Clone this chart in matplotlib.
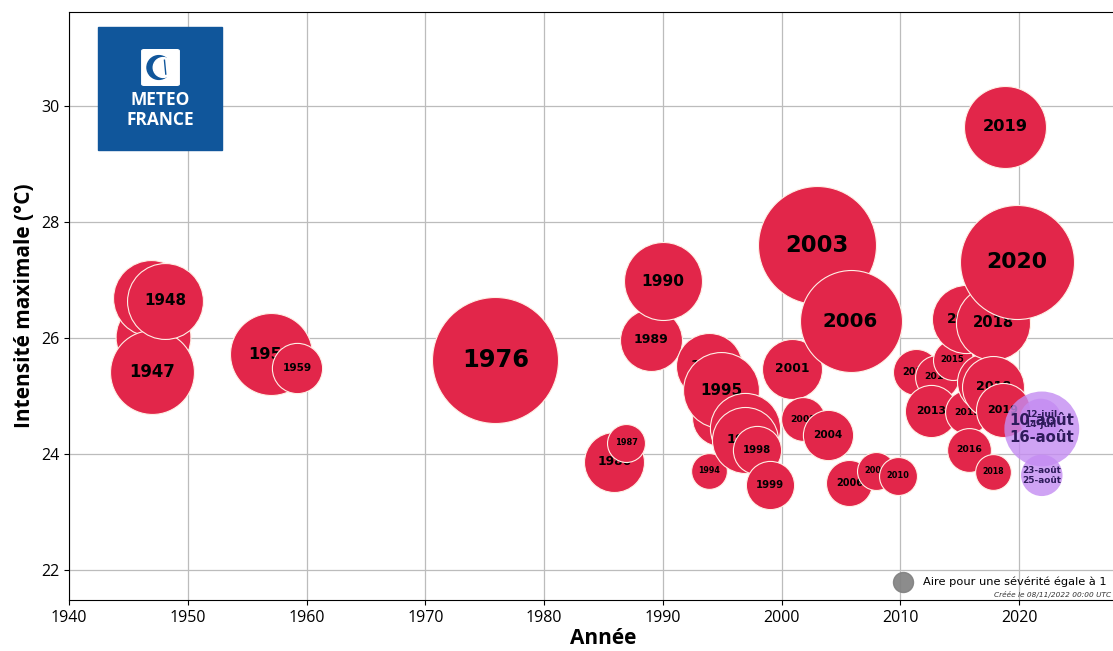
import numpy as np
import matplotlib
matplotlib.use("Agg")
import matplotlib.pyplot as plt
from matplotlib.patches import Rectangle, FancyBboxPatch, Circle

plt.rcParams['font.family'] = ['Open Sans', 'DejaVu Sans']

# vagues de chaleur passées (ordre de tracé)
labels = ["1947", "1947", "1947", "1948", "1957", "1959", "1976", "1976",
          "1986", "1987", "1989", "1990", "1994", "1994", "1995", "1995",
          "1997", "1997", "1998", "1999", "2001", "2002", "2003", "2004",
          "2006", "2006", "2008", "2010", "2012", "2013", "2013", "2015",
          "2015", "2015", "2016", "2017", "2018", "2018", "2018", "2019",
          "2019", "2020"]
annee = [1947.1, 1946.9, 1947.0, 1948.1, 1957.0, 1959.2, 1975.6, 1975.9,
         1985.9, 1986.9, 1989.0, 1990.0, 1993.9, 1993.9, 1994.8, 1994.9,
         1996.9, 1996.9, 1997.9, 1999.0, 2000.9, 2001.8, 2003.0, 2003.9,
         2005.8, 2005.7, 2007.9, 2009.8, 2011.3, 2013.1, 2012.6, 2014.4,
         2015.5, 2015.6, 2015.8, 2017.2, 2017.8, 2017.8, 2017.8, 2018.6,
         2018.8, 2019.8]
intensite = [26.02, 26.69, 25.41, 26.64, 25.72, 25.48, 25.45, 25.62,
             23.86, 24.19, 25.97, 26.98, 25.52, 23.71, 24.62, 25.10,
             24.45, 24.24, 24.07, 23.47, 25.47, 24.60, 27.60, 24.33,
             26.29, 23.50, 23.71, 23.62, 25.41, 25.33, 24.74, 25.62,
             26.33, 24.72, 24.07, 25.24, 26.26, 25.16, 23.69, 24.76,
             29.64, 27.31]
severite = [14.0, 14.4, 17.6, 14.4, 16.8, 6.3, 27.0, 39.7,
            9.0, 3.6, 9.6, 15.2, 10.9, 3.2, 7.8, 14.4,
            12.3, 10.9, 5.8, 5.8, 9.0, 4.8, 34.8, 6.3,
            26.0, 5.3, 3.6, 3.6, 5.3, 4.8, 6.8, 4.0,
            11.6, 4.8, 4.8, 8.4, 13.7, 9.6, 3.2, 7.3,
            16.8, 32.5]

# vagues de chaleur 2022
labels_2022 = ["12-juil\n14-juil", "10-août\n16-août", "23-août\n25-août"]
annee_2022 = [2021.8, 2021.9, 2021.9]
intensite_2022 = [24.59, 24.43, 23.63]
severite_2022 = [4.4, 14.0, 4.3]

unit = 207.36  # taille (pt^2) d'une bulle de sévérité 1


def taille_police(s):
    return 1 + 2.6 * np.sqrt(s)


fig = plt.figure(figsize=(11.13, 6.51), dpi=100)
ax = fig.add_axes([69 / 1113, 51 / 651, 1069 / 1113, 588 / 651])
ax.set_xlim(1940, 2030)
ax.set_ylim(21.48, 31.62)
ax.set_xticks(np.arange(1940, 2030, 10))
ax.set_yticks(np.arange(22, 31, 2))
ax.grid(True, color='#bcbcbc', linewidth=0.9)
ax.set_axisbelow(True)
ax.tick_params(labelsize=11.5)

z = 3
for lab, x, y, s in zip(labels, annee, intensite, severite):
    ax.scatter(x, y, s=s * unit, color='#e2264a',
               edgecolors='#fff0e6', linewidths=0.8, zorder=z)
    ax.text(x, y, lab, ha='center', va='center', fontweight='bold',
            family='DejaVu Sans', fontsize=taille_police(s),
            color='black', zorder=z + 1)
    z += 2

# 2022 : bulles d'abord, puis les dates par-dessus
ax.scatter(annee_2022, intensite_2022, s=np.array(severite_2022) * unit,
           color='#c48cf2', alpha=0.8, edgecolors='none', zorder=z)
for lab, x, y, s in zip(labels_2022, annee_2022, intensite_2022, severite_2022):
    ax.text(x, y, lab, ha='center', va='center', fontweight='bold',
            family='DejaVu Sans', fontsize=taille_police(s),
            color='#2e1b5b', zorder=z + 1)

ax.set_xlabel("Année", fontsize=15, fontweight='bold', labelpad=2)
ax.set_ylabel("Intensité maximale (°C)", fontsize=15, fontweight='bold')

# légende de taille
h = ax.scatter([], [], s=unit, color='gray', alpha=0.9,
               label="Aire pour une sévérité égale à 1")
fig.legend(handles=[h], loc='center left', bbox_to_anchor=(881 / 1113, 69 / 651),
           frameon=False, borderpad=0.4, handlelength=2.0, handletextpad=0.8,
           prop={'family': 'DejaVu Sans', 'size': 8.2})
fig.text(1111 / 1113, 56 / 651, "Créée le 08/11/2022 00:00 UTC", fontsize=5.3,
         style='italic', color='#333333', family='DejaVu Sans',
         ha='right', va='center')

# logo
fig.patches.append(Rectangle((98 / 1113, 501 / 651), 124 / 1113, 123 / 651,
                             transform=fig.transFigure, color='#10569b', zorder=50))
fig.patches.append(FancyBboxPatch((144 / 1113, 567 / 651), 33 / 1113, 33 / 651,
                                  boxstyle='round,pad=0.002', transform=fig.transFigure,
                                  color='white', zorder=51))
ax_logo = fig.add_axes([144 / 1113, 567 / 651, 33 / 1113, 33 / 651])
ax_logo.set_xlim(0, 1)
ax_logo.set_ylim(0, 1)
ax_logo.axis('off')
ax_logo.add_patch(Circle((0.45, 0.5), 0.36, color='#10569b'))
ax_logo.add_patch(Circle((0.58, 0.5), 0.3, color='white'))
ax_logo.plot([0.62, 0.66], [0.72, 0.3], color='#10569b', lw=1)
ax_logo.set_zorder(52)
fig.text(160 / 1113, 551 / 651, "METEO", color='white', fontsize=12.5,
         fontweight='bold', ha='center', va='center', zorder=53)
fig.text(160 / 1113, 531 / 651, "FRANCE", color='white', fontsize=12.5,
         fontweight='bold', ha='center', va='center', zorder=53)

fig.savefig("out.png", dpi=100)
